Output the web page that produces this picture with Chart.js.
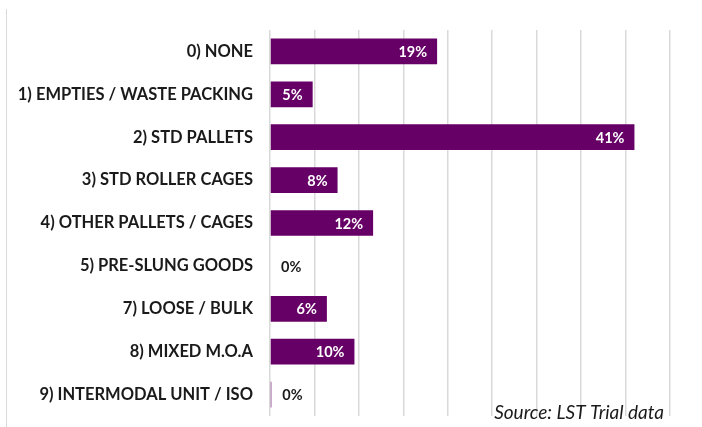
<!DOCTYPE html>
<html>
<head>
<meta charset="utf-8">
<script src="https://cdn.jsdelivr.net/npm/chart.js@4/dist/chart.umd.min.js"></script>
<style>
    html, body { margin: 0; padding: 0; background: #fff; }
    #wrap { position: relative; width: 702px; height: 427px; }
    #frame { position: absolute; left: 6px; top: 9px; bottom: 0; border-left: 1px solid #d9d9d9; }
    canvas { position: absolute; left: 0; top: 0; }
</style>
</head>
<body>
<div id="wrap">
    <div id="frame"></div>
    <canvas id="chart" width="702" height="427"></canvas>
</div>
<script>
// Datos del gráfico
const categories = [
    '0) NONE',
    '1) EMPTIES / WASTE PACKING',
    '2) STD PALLETS',
    '3) STD ROLLER CAGES',
    '4) OTHER PALLETS / CAGES',
    '5) PRE-SLUNG GOODS',
    '7) LOOSE / BULK',
    '8) MIXED M.O.A',
    '9) INTERMODAL UNIT / ISO'
];
const shares = [18.8, 4.8, 41, 7.6, 11.6, 0, 6.4, 9.5, 0.15];
const shareLabels = ['19%', '5%', '41%', '8%', '12%', '0%', '6%', '10%', '0%'];
const sourceNote = 'Source: LST Trial data';

const barColor = '#660066';

// Etiquetas de valor: dentro de la barra (blanco) o fuera si es casi 0
const valueLabels = {
    id: 'valueLabels',
    afterDatasetsDraw(chart) {
        const { ctx } = chart;
        const meta = chart.getDatasetMeta(0);
        ctx.save();
        ctx.font = 'bold 14.5px Lato';
        ctx.textBaseline = 'middle';
        meta.data.forEach((bar, i) => {
            const text = shareLabels[i];
            if (shares[i] >= 1) {
                ctx.fillStyle = '#ffffff';
                ctx.textAlign = 'right';
                ctx.fillText(text, bar.x - 10, bar.y + 1);
            } else {
                ctx.fillStyle = '#1a1a1a';
                ctx.textAlign = 'left';
                ctx.fillText(text, bar.x + 11, bar.y + 1);
            }
        });
        ctx.restore();
    },
    afterDraw(chart) {
        const { ctx, chartArea } = chart;
        ctx.save();
        ctx.font = 'italic 19px Lato';
        ctx.fillStyle = '#1a1a1a';
        ctx.textAlign = 'right';
        ctx.textBaseline = 'alphabetic';
        ctx.fillText(sourceNote, chartArea.right - 6, chartArea.bottom + 3);
        ctx.restore();
    }
};

new Chart(document.getElementById('chart'), {
    type: 'bar',
    data: {
        labels: categories,
        datasets: [{
            data: shares,
            backgroundColor: barColor,
            borderWidth: 0,
            categoryPercentage: 1,
            barPercentage: 0.6
        }]
    },
    options: {
        indexAxis: 'y',
        responsive: false,
        animation: false,
        layout: { padding: { top: 30, right: 32, bottom: 0, left: 0 } },
        plugins: {
            legend: { display: false },
            tooltip: { enabled: false }
        },
        scales: {
            x: {
                min: 0,
                max: 45,
                ticks: { display: false, stepSize: 5 },
                grid: { color: '#d9d9d9', lineWidth: 1.5, drawTicks: false },
                border: { display: false },
                afterFit(scale) {
                    scale.height = 11;
                    scale.paddingLeft = 0;
                    scale.paddingRight = 0;
                }
            },
            y: {
                ticks: {
                    color: '#1a1a1a',
                    font: { family: 'Lato', size: 16.5, weight: 'bold' },
                    padding: 17
                },
                grid: { display: false, drawTicks: false },
                border: { display: false },
                afterFit(scale) {
                    scale.width = 270;
                    scale.paddingTop = 0;
                    scale.paddingBottom = 0;
                }
            }
        }
    },
    plugins: [valueLabels]
});
</script>
</body>
</html>
